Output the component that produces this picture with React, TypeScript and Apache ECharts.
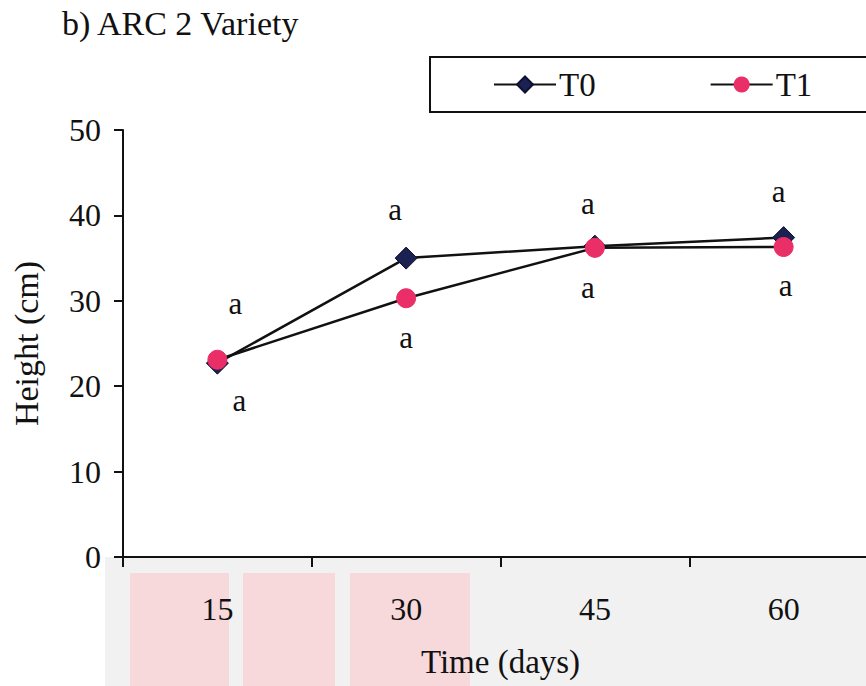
import React, { useEffect, useRef } from "react";
import * as echarts from "echarts";

const categories = ["15", "30", "45", "60"];
const t0Values = [22.7, 35.0, 36.4, 37.4];
const t1Values = [23.1, 30.3, 36.2, 36.3];
const t0Letters = ["a", "a", "a", "a"];
const t1Letters = ["a", "a", "a", "a"];
const yTicks = [0, 10, 20, 30, 40, 50];

const FONT = "Liberation Serif, Times New Roman, serif";
const t0LabelOffsets = [[22, 37], [-11, -49], [-7, -43], [-5, -46]];
const t1LabelOffsets = [[18, -56], [0, 39], [-7, 40], [2, 39]];

export default function App() {
  const ref = useRef<HTMLDivElement>(null);
  useEffect(() => {
    if (!ref.current) return;
    const chart = echarts.init(ref.current, null, { renderer: "svg" });
    const labelStyle = { show: true, position: "inside", fontFamily: FONT, fontSize: 31, color: "#111" };
    const mk = (vals: number[], letters: string[], offs: number[][]) =>
      vals.map((v, i) => ({
        value: v,
        label: { ...labelStyle, formatter: letters[i], offset: offs[i] },
      }));
    chart.setOption({
      animation: false,
      backgroundColor: "#ffffff",
      title: {
        text: "b) ARC 2 Variety",
        left: 57,
        top: 1,
        textStyle: { fontFamily: FONT, fontSize: 34, fontWeight: "normal", color: "#111" },
      },
      graphic: [
        { type: "rect", shape: { x: 105, y: 557, width: 761, height: 129 }, style: { fill: "#f1f1f1" }, z: -10 },
        { type: "rect", shape: { x: 130, y: 573, width: 99, height: 113 }, style: { fill: "#f7d9dc" }, z: -9 },
        { type: "rect", shape: { x: 243, y: 573, width: 92, height: 113 }, style: { fill: "#f7d9dc" }, z: -9 },
        { type: "rect", shape: { x: 350, y: 573, width: 120, height: 113 }, style: { fill: "#f7d9dc" }, z: -9 },
        { type: "rect", shape: { x: 430, y: 57, width: 450, height: 55 }, style: { fill: "#fff", stroke: "#111", lineWidth: 2 }, z: 1 },
      ],
      legend: {
        left: 488,
        top: 63,
        itemWidth: 62,
        itemHeight: 20,
        itemGap: 114,
        textStyle: { fontFamily: FONT, fontSize: 33, color: "#111", padding: [0, 0, 0, -2] },
        data: ["T0", "T1"],
        z: 5,
      },
      grid: { left: 123, top: 130, width: 755, height: 427, outerBoundsMode: "none", containLabel: false },
      xAxis: {
        type: "category",
        data: categories,
        boundaryGap: true,
        name: "Time (days)",
        nameLocation: "middle",
        nameGap: 88,
        nameTextStyle: { fontFamily: FONT, fontSize: 33, color: "#111" },
        axisLine: { lineStyle: { color: "#111", width: 2 } },
        axisTick: { show: true, length: 10, lineStyle: { color: "#111", width: 2 } },
        axisLabel: { fontFamily: FONT, fontSize: 32, color: "#111", margin: 36 },
        splitLine: { show: false },
      },
      yAxis: {
        type: "value",
        min: yTicks[0],
        max: yTicks[yTicks.length - 1],
        interval: 10,
        name: "Height (cm)",
        nameLocation: "middle",
        nameGap: 80,
        nameTextStyle: { fontFamily: FONT, fontSize: 34, color: "#111" },
        axisLine: { show: true, lineStyle: { color: "#111", width: 2 } },
        axisTick: { show: true, length: 9, lineStyle: { color: "#111", width: 2 } },
        axisLabel: { fontFamily: FONT, fontSize: 32, color: "#111", margin: 22 },
        splitLine: { show: false },
      },
      series: [
        {
          name: "T0",
          type: "line",
          data: mk(t0Values, t0Letters, t0LabelOffsets),
          symbol: "diamond",
          symbolSize: 22,
          itemStyle: { color: "#1b2150", borderColor: "#0d1030", borderWidth: 1 },
          lineStyle: { color: "#111", width: 2.5 },
          z: 3,
        },
        {
          name: "T1",
          type: "line",
          data: mk(t1Values, t1Letters, t1LabelOffsets),
          symbol: "circle",
          symbolSize: 19,
          itemStyle: { color: "#ea2f68", borderColor: "#ea2f68" },
          lineStyle: { color: "#111", width: 2.5 },
          z: 4,
        },
      ],
    });
    return () => chart.dispose();
  }, []);
  return <div ref={ref} style={{ position: "absolute", left: 0, top: 0, width: 866, height: 686 }} />;
}
